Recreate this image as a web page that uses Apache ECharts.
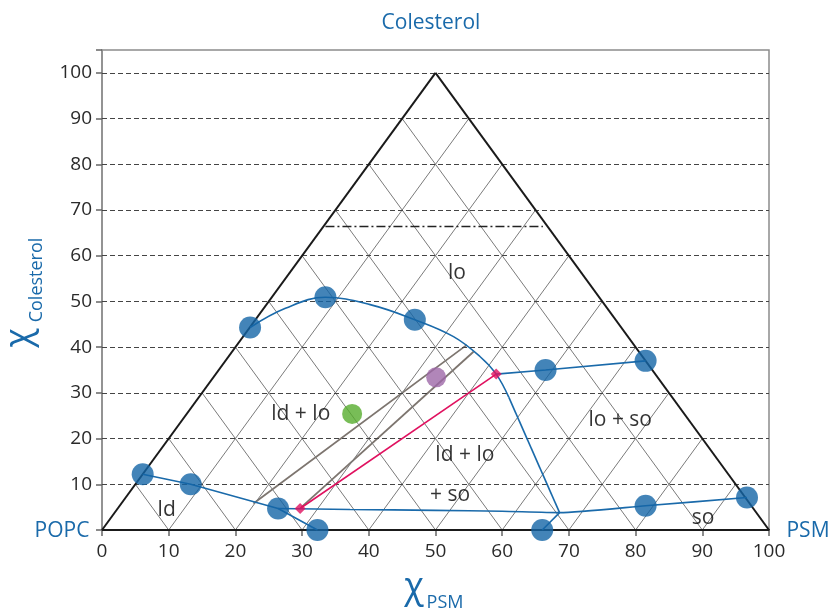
<!DOCTYPE html>
<html>
<head>
<meta charset="utf-8">
<script src="https://cdn.jsdelivr.net/npm/echarts@6/dist/echarts.min.js"></script>
<style>html,body{margin:0;padding:0;background:#fff}#c{width:830px;height:615px}</style>
</head>
<body>
<div id="c"></div>
<script>
// ---- data ----
const xTicks = [0, 10, 20, 30, 40, 50, 60, 70, 80, 90, 100];
const yTicks = [10, 20, 30, 40, 50, 60, 70, 80, 90, 100];
const triLevels = [10, 20, 30, 40, 50, 60, 70, 80, 90];
const triangle = [[0, 0], [50, 100], [100, 0], [0, 0]];
const dashDot = [[33.5, 66.4], [66.1, 66.4]];

const bluePoints = [[6.1, 12.2], [13.3, 10.0], [26.4, 4.7], [32.3, 0], [22.2, 44.3], [33.5, 50.9],
  [46.9, 46.0], [66.5, 35.0], [81.5, 37.0], [66.0, 0], [81.5, 5.3], [96.7, 7.1]];
const ldBoundary = [[6.1, 12.2], [13.3, 10.0], [26.4, 4.7], [32.3, 0]];
const domeCurve = [[22.2, 44.3], [27.5, 48.5], [33.5, 50.9], [40.2, 49.3], [46.9, 46.0], [52.7, 42.3], [56.7, 37.9], [59.1, 34.1], [61.0, 29.0]];
const descentCurve = [[61.0, 29.0], [68.6, 3.8]];
const soBoundary = [[26.4, 4.7], [37.2, 4.5], [50, 4.3], [60, 4.1], [68.6, 3.8], [81.5, 5.3], [96.7, 7.1]];
const shortStub = [[68.6, 3.8], [66.0, 0]];
const loSoLine = [[59.1, 34.1], [66.5, 35.0], [81.5, 37.0]];
const tieLine = [[29.7, 4.7], [59.1, 34.1]];
const grayLineA = [[22.7, 5.8], [54.7, 40.5]];
const grayLineB = [[29.9, 5.0], [55.7, 39.0]];
const purplePoint = [[50.1, 33.4]];
const greenPoint = [[37.5, 25.4]];
const regionLabels = [
  ['lo', 53.2, 56.2], ['ld + lo', 29.8, 25.4], ['ld + lo', 54.4, 16.4], ['+ so', 52.2, 7.7],
  ['lo + so', 77.7, 24.1], ['ld', 9.7, 4.4], ['so', 90.1, 2.6]
];

// ---- build ----
const FONT = 'Open Sans';
const BLUE = '#1a6aaa';
const seg = (a, b) => [{ coord: a }, { coord: b }];
const gridSegs = [];
triLevels.forEach(a => {
  gridSegs.push(seg([a, 0], [50 + a / 2, 100 - a]));
  gridSegs.push(seg([a, 0], [a / 2, a]));
});
const triSegs = [];
for (let i = 0; i < triangle.length - 1; i++) triSegs.push(seg(triangle[i], triangle[i + 1]));

function mlSeries(data, style, z) {
  return {
    type: 'line', data: [], z: z, silent: true,
    markLine: { silent: true, symbol: ['none', 'none'], label: { show: false }, animation: false,
      lineStyle: style, emphasis: { disabled: true }, data: data }
  };
}
function lineSeries(data, color, width, smooth, z) {
  return { type: 'line', data: data, smooth: smooth, showSymbol: false, symbol: 'none', z: z, silent: true,
    lineStyle: { color: color, width: width }, animation: false };
}

const option = {
  animation: false,
  grid: { left: 102, right: 61, top: 50, bottom: 85, show: true, borderColor: '#8c8c8c', borderWidth: 1.5 },
  xAxis: {
    type: 'value', min: 0, max: 100, interval: 10,
    axisLine: { show: true, lineStyle: { color: '#222', width: 2 } },
    axisTick: { show: true, length: 6, lineStyle: { color: '#666', width: 1.5 } },
    axisLabel: { fontSize: 19, color: '#2a2a2a', fontFamily: FONT, margin: 12 },
    splitLine: { show: false }
  },
  yAxis: {
    type: 'value', min: 0, max: 105, interval: 10,
    axisLine: { show: true, lineStyle: { color: '#8c8c8c', width: 1.5 } },
    axisTick: { show: true, length: 6, lineStyle: { color: '#666', width: 1.5 } },
    axisLabel: { fontSize: 19, color: '#2a2a2a', fontFamily: FONT, margin: 10,
      formatter: v => (yTicks.indexOf(v) >= 0 ? String(v) : '') },
    splitLine: { show: false }
  },
  graphic: [
    { type: 'text', x: 431, y: 23, style: { text: 'Colesterol', font: '500 21px "Open Sans"', fill: BLUE, textAlign: 'center', textVerticalAlign: 'middle' } },
    { type: 'text', x: 62, y: 531, style: { text: 'POPC', font: '21px "Open Sans"', fill: BLUE, textAlign: 'center', textVerticalAlign: 'middle' } },
    { type: 'text', x: 808, y: 531, style: { text: 'PSM', font: '21px "Open Sans"', fill: BLUE, textAlign: 'center', textVerticalAlign: 'middle' } },
    { type: 'text', x: 414, y: 588, style: { text: 'χ', font: '36px "Open Sans"', fill: BLUE, textAlign: 'center', textVerticalAlign: 'middle' } },
    { type: 'text', x: 445, y: 603, style: { text: 'PSM', font: '18px "Open Sans"', fill: BLUE, textAlign: 'center', textVerticalAlign: 'middle' } },
    { type: 'text', x: 20, y: 338, rotation: Math.PI / 2, style: { text: 'χ', font: '36px "Open Sans"', fill: BLUE, textAlign: 'center', textVerticalAlign: 'middle' } },
    { type: 'text', x: 37, y: 280, rotation: Math.PI / 2, style: { text: 'Colesterol', font: '18px "Open Sans"', fill: BLUE, textAlign: 'center', textVerticalAlign: 'middle' } }
  ],
  series: [
    mlSeries(gridSegs, { color: '#7a7a7a', width: 1, type: 'solid' }, 1),
    mlSeries(yTicks.map(v => ({ yAxis: v })), { color: '#444', width: 1, type: [5, 3] }, 2),
    mlSeries([seg(dashDot[0], dashDot[1])], { color: '#222', width: 1.3, type: [9, 3, 2, 3] }, 2),
    mlSeries(triSegs, { color: '#1a1a1a', width: 2, type: 'solid' }, 3),
    lineSeries(grayLineA, '#7d756f', 1.8, false, 4),
    lineSeries(grayLineB, '#7d756f', 1.8, false, 4),
    lineSeries(tieLine, '#e0115f', 1.6, false, 5),
    lineSeries(ldBoundary, BLUE, 1.6, false, 5),
    lineSeries(domeCurve, BLUE, 1.6, 0.4, 5),
    lineSeries(descentCurve, BLUE, 1.6, false, 5),
    lineSeries(soBoundary, BLUE, 1.6, 0.2, 5),
    lineSeries(shortStub, BLUE, 1.6, false, 5),
    lineSeries(loSoLine, BLUE, 1.6, false, 5),
    { type: 'scatter', data: tieLine, symbol: 'diamond', symbolSize: 11, itemStyle: { color: '#e0115f' }, z: 6, silent: true },
    { type: 'scatter', data: bluePoints, symbolSize: 22, itemStyle: { color: '#1465a6' }, z: 7, silent: true },
    { type: 'scatter', data: purplePoint, symbolSize: 20, itemStyle: { color: '#9d68a8' }, z: 7, silent: true },
    { type: 'scatter', data: greenPoint, symbolSize: 20, itemStyle: { color: '#56ac2d' }, z: 7, silent: true },
    { type: 'scatter', symbolSize: 1, itemStyle: { color: 'rgba(0,0,0,0)' }, z: 8, silent: true,
      data: regionLabels.map(r => ({ name: r[0], value: [r[1], r[2]] })),
      label: { show: true, position: 'inside', formatter: p => p.name, fontSize: 21, fontWeight: 500, color: '#000', fontFamily: FONT } }
  ]
};
const chart = echarts.init(document.getElementById('c'), null, { renderer: 'canvas' });
chart.setOption(option);
</script>
</body>
</html>
